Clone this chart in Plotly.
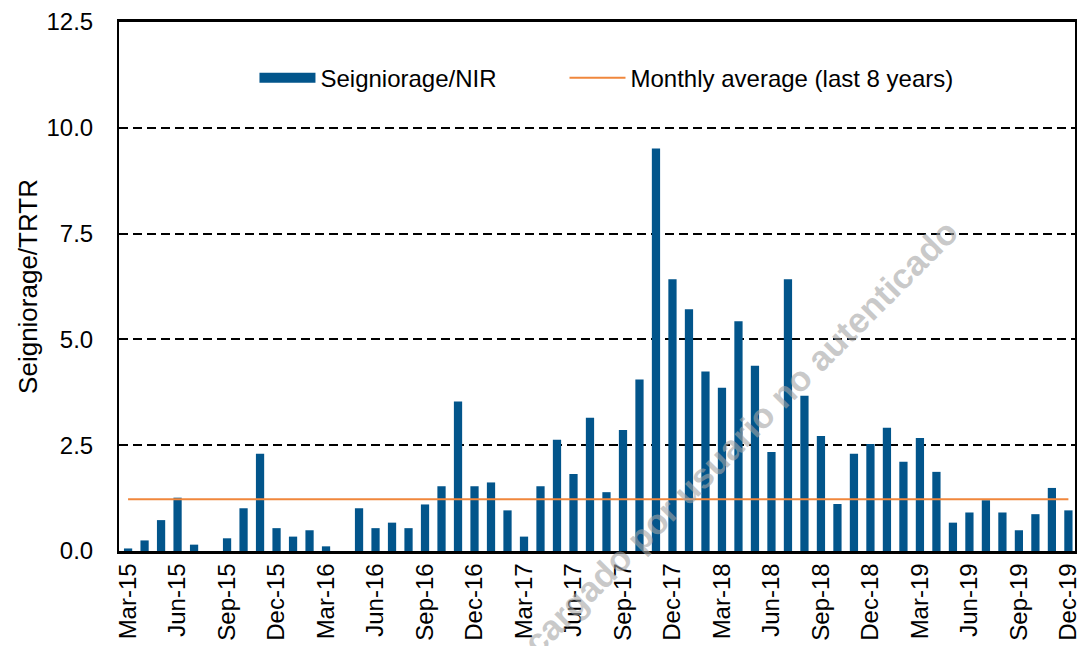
import plotly.graph_objects as go

months = [
    "Mar-15", "Apr-15", "May-15", "Jun-15", "Jul-15", "Aug-15", "Sep-15", "Oct-15", "Nov-15", "Dec-15",
    "Jan-16", "Feb-16", "Mar-16", "Apr-16", "May-16", "Jun-16", "Jul-16", "Aug-16", "Sep-16", "Oct-16",
    "Nov-16", "Dec-16", "Jan-17", "Feb-17", "Mar-17", "Apr-17", "May-17", "Jun-17", "Jul-17", "Aug-17",
    "Sep-17", "Oct-17", "Nov-17", "Dec-17", "Jan-18", "Feb-18", "Mar-18", "Apr-18", "May-18", "Jun-18",
    "Jul-18", "Aug-18", "Sep-18", "Oct-18", "Nov-18", "Dec-18", "Jan-19", "Feb-19", "Mar-19", "Apr-19",
    "May-19", "Jun-19", "Jul-19", "Aug-19", "Sep-19", "Oct-19", "Nov-19", "Dec-19",
]

seigniorage_nir = [
    0.06, 0.25, 0.73, 1.26, 0.15, 0.0, 0.30, 1.01, 2.30, 0.54,
    0.34, 0.49, 0.11, 0.0, 1.01, 0.54, 0.67, 0.54, 1.10, 1.53,
    3.53, 1.53, 1.62, 0.96, 0.34, 1.53, 2.63, 1.82, 3.15, 1.39,
    2.86, 4.05, 9.51, 6.42, 5.71, 4.24, 3.86, 5.43, 4.38, 2.34,
    6.42, 3.67, 2.72, 1.11, 2.30, 2.53, 2.91, 2.11, 2.67, 1.87,
    0.67, 0.91, 1.20, 0.91, 0.49, 0.87, 1.49, 0.96,
]

monthly_average = 1.22

tick_labels = months[::3]

BAR_COLOR = "#02558B"
LINE_COLOR = "#F0873C"

fig = go.Figure()

fig.add_trace(go.Bar(
    x=months,
    y=seigniorage_nir,
    name="Seigniorage/NIR",
    marker=dict(color=BAR_COLOR, line=dict(width=0)),
    showlegend=False,
))

# legend swatch for the bars (wide rectangle like the reference)
fig.add_trace(go.Scatter(
    x=[None], y=[None],
    name="Seigniorage/NIR",
    mode="lines",
    line=dict(color=BAR_COLOR, width=14),
    legend="legend",
))

fig.add_trace(go.Scatter(
    x=months,
    y=[monthly_average] * len(months),
    name="Monthly average (last 8 years)",
    mode="lines",
    line=dict(color=LINE_COLOR, width=2),
    legend="legend2",
))

font_family = "Liberation Sans, Arial, sans-serif"
legend_common = dict(
    orientation="h",
    yanchor="middle",
    xanchor="left",
    font=dict(size=24, color="#000000", family=font_family),
    bgcolor="rgba(0,0,0,0)",
    itemwidth=56,
)

fig.update_layout(
    width=1080,
    height=646,
    margin=dict(l=119, r=5, t=22, b=95, autoexpand=False),
    plot_bgcolor="white",
    paper_bgcolor="white",
    font=dict(family=font_family, size=24, color="#000000"),
    bargap=0.5,
    showlegend=True,
    legend=dict(x=0.1417, y=0.894, **legend_common),
    legend2=dict(x=0.466, y=0.894, **legend_common),
    xaxis=dict(
        type="category",
        categoryorder="array",
        categoryarray=months,
        tickmode="array",
        tickvals=tick_labels,
        ticktext=tick_labels,
        tickangle=-90,
        range=[-0.55, 57.4],
        showline=True,
        linecolor="black",
        linewidth=2.5,
        mirror=True,
        ticks="",
        showgrid=False,
        automargin=False,
        tickfont=dict(size=24),
    ),
    yaxis=dict(
        range=[0, 12.5],
        dtick=2.5,
        tickformat=".1f",
        showline=True,
        linecolor="black",
        linewidth=2,
        mirror=True,
        ticks="inside",
        ticklen=5,
        tickcolor="black",
        ticklabelstandoff=19,
        showgrid=True,
        gridcolor="black",
        gridwidth=2,
        griddash="9px,5px",
        zeroline=False,
        automargin=False,
        title=dict(text="Seigniorage/TRTR", font=dict(size=26), standoff=1),
        tickfont=dict(size=24),
    ),
)

fig.add_annotation(
    text="<b>Descargado por usuario no autenticado</b>",
    xref="paper", yref="paper",
    x=0.62, y=0.146,
    xshift=6,
    yshift=-236,
    showarrow=False,
    textangle=-45,
    font=dict(size=35, color="rgba(165,165,165,0.6)", family=font_family),
)

fig.write_html(
    "out.html",
    config={"displayModeBar": False},
    post_script="document.body.style.margin='0px';",
)
